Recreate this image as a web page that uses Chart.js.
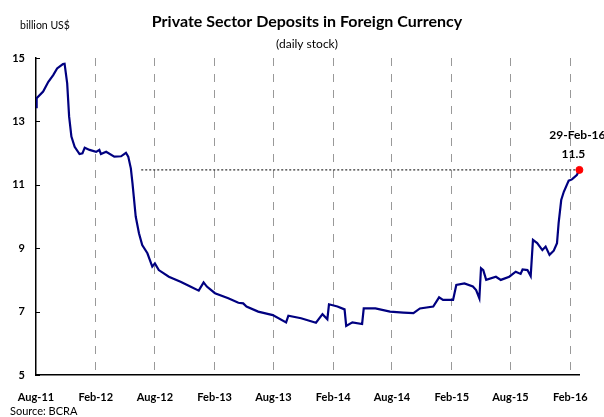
<!DOCTYPE html>
<html>
<head>
<meta charset="utf-8">
<script src="https://cdn.jsdelivr.net/npm/chart.js@4/dist/chart.umd.min.js"></script>
<style>
  html, body { margin: 0; padding: 0; background: #fff; }
  canvas { display: block; }
</style>
</head>
<body>
<canvas id="myChart" width="604" height="417"></canvas>
<script>
// values, billion US$
var dates = ["2011-08-01","2011-08-03","2011-08-23","2011-09-08","2011-09-23","2011-10-05","2011-10-23","2011-10-28",
  "2011-11-05","2011-11-11","2011-11-18","2011-11-28","2011-12-13","2011-12-22","2011-12-29","2012-01-13",
  "2012-02-02","2012-02-12","2012-02-17","2012-03-04","2012-03-29","2012-04-19","2012-05-04","2012-05-11",
  "2012-05-19","2012-05-24","2012-06-03","2012-06-13","2012-06-23","2012-07-09","2012-07-24","2012-08-01",
  "2012-08-13","2012-09-13","2012-10-19","2012-11-18","2012-12-14","2012-12-29","2013-01-08","2013-02-02",
  "2013-03-15","2013-04-15","2013-04-30","2013-05-10","2013-06-15","2013-07-30","2013-09-09","2013-09-16",
  "2013-10-25","2013-12-10","2013-12-30","2014-01-14","2014-01-19","2014-02-14","2014-03-08","2014-03-13",
  "2014-04-01","2014-05-01","2014-05-06","2014-06-11","2014-07-26","2014-09-05","2014-10-06","2014-10-26",
  "2014-12-06","2014-12-24","2015-01-05","2015-02-05","2015-02-15","2015-03-12","2015-04-07","2015-04-17",
  "2015-04-27","2015-05-02","2015-05-09","2015-05-18","2015-06-17","2015-07-02","2015-07-28","2015-08-17",
  "2015-09-01","2015-09-07","2015-09-22","2015-10-02","2015-10-09","2015-10-22","2015-11-07","2015-11-17",
  "2015-11-29","2015-12-12","2015-12-22","2015-12-27","2016-01-04","2016-01-12","2016-01-27","2016-02-06",
  "2016-02-21","2016-02-29"];
var deposits = [13.45,13.73,13.94,14.25,14.46,14.67,14.81,14.82,
  14.2,13.15,12.52,12.2,11.97,11.99,12.17,12.1,
  12.04,12.1,11.97,12.04,11.89,11.9,12.01,11.89,
  11.52,11.05,10.0,9.47,9.1,8.84,8.42,8.52,
  8.31,8.1,7.94,7.79,7.66,7.92,7.79,7.58,
  7.42,7.28,7.26,7.16,7.0,6.89,6.66,6.87,
  6.79,6.65,6.92,6.76,7.23,7.16,7.07,6.55,
  6.66,6.61,7.1,7.1,7.0,6.97,6.95,7.1,
  7.16,7.45,7.37,7.37,7.84,7.89,7.79,7.68,
  7.42,8.37,8.31,8.0,8.1,8.0,8.1,8.26,
  8.19,8.33,8.31,8.12,9.26,9.16,8.94,9.05,
  8.79,8.92,9.16,9.79,10.52,10.78,11.13,11.17,
  11.31,11.47];

var tickDates = ["2011-08-01","2012-02-01","2012-08-01","2013-02-01","2013-08-01","2014-02-01",
  "2014-08-01","2015-02-01","2015-08-01","2016-02-01"];
var tickLabels = ["Aug-11","Feb-12","Aug-12","Feb-13","Aug-13","Feb-14","Aug-14","Feb-15","Aug-15","Feb-16"];
var yTicks = [5, 7, 9, 11, 13, 15];

var startDate = "2011-08-01";
var endDate = "2016-03-01";
var refLineStart = "2012-06-20";
var lastLabel = "29-Feb-16";
var lastValueLabel = "11.5";

function dayOf(s) {
  var p = s.split("-");
  var base = Date.UTC(2011, 7, 1);
  return Math.round((Date.UTC(+p[0], +p[1] - 1, +p[2]) - base) / 86400000);
}

var seriesData = dates.map(function (d, i) { return { x: dayOf(d), y: deposits[i] }; });
var lastPoint = seriesData[seriesData.length - 1];
var refLine = [{ x: dayOf(refLineStart), y: lastPoint.y }, { x: lastPoint.x, y: lastPoint.y }];

var boldFont = "Lato, 'DejaVu Sans', sans-serif";

var textPlugin = {
  id: 'texts',
  afterDraw: function (chart) {
    var ctx = chart.ctx;
    ctx.save();
    ctx.fillStyle = '#000';
    ctx.textAlign = 'center';
    ctx.textBaseline = 'middle';
    ctx.font = "bold 16px " + boldFont;
    ctx.fillText("Private Sector Deposits in Foreign Currency", 307, 22);
    ctx.font = "12px " + boldFont;
    ctx.fillText("(daily stock)", 307, 44);
    ctx.textAlign = 'left';
    ctx.font = "10.5px " + boldFont;
    ctx.fillText("billion US$", 20, 26);
    ctx.font = "11px " + boldFont;
    ctx.fillText("Source: BCRA", 10, 411);

    // end-point annotation
    var xs = chart.scales.x, ys = chart.scales.y;
    var px = xs.getPixelForValue(lastPoint.x);
    ctx.textAlign = 'center';
    ctx.font = "bold 12px " + boldFont;
    ctx.fillText(lastLabel, px - 2, 135);
    ctx.fillText(lastValueLabel, px - 6, 154);

    // inward tick marks on y axis
    ctx.strokeStyle = '#000';
    ctx.lineWidth = 1;
    yTicks.forEach(function (v) {
      var py = Math.round(ys.getPixelForValue(v)) + 0.5;
      ctx.beginPath();
      ctx.moveTo(xs.left, py);
      ctx.lineTo(xs.left + 4, py);
      ctx.stroke();
    });
    ctx.restore();
  }
};

var ctx = document.getElementById("myChart");
var chart = new Chart(ctx, {
  type: 'line',
  data: {
    datasets: [
      {
        label: 'reference',
        data: refLine,
        borderColor: '#000',
        borderWidth: 1,
        borderDash: [2, 2],
        pointRadius: 0,
        order: 2
      },
      {
        label: 'deposits',
        data: seriesData,
        borderColor: '#000080',
        borderWidth: 2.2,
        pointRadius: 0,
        tension: 0,
        order: 1
      },
      {
        label: 'last',
        data: [lastPoint],
        showLine: false,
        clip: false,
        pointRadius: 3.5,
        pointBackgroundColor: '#ff0000',
        pointBorderColor: '#ff0000',
        order: 0
      }
    ]
  },
  options: {
    responsive: false,
    animation: false,
    layout: { padding: { top: 58, right: 19, left: 0, bottom: 0 } },
    plugins: { legend: { display: false }, tooltip: { enabled: false } },
    scales: {
      x: {
        type: 'linear',
        min: dayOf(startDate),
        max: dayOf(endDate),
        afterBuildTicks: function (scale) {
          scale.ticks = tickDates.map(function (d) { return { value: dayOf(d) }; });
        },
        afterFit: function (scale) { scale.height = 42; },
        ticks: {
          autoSkip: false,
          maxRotation: 0,
          padding: 16,
          color: '#000',
          font: { family: boldFont, size: 11, weight: 'bold' },
          callback: function (value, index) { return tickLabels[index]; }
        },
        grid: {
          drawTicks: false,
          lineWidth: 1,
          color: function (c) { return c.index === 0 ? 'rgba(0,0,0,0)' : '#999'; }
        },
        border: { display: true, color: '#000', width: 1.5, dash: [8, 8] }
      },
      y: {
        min: 5,
        max: 15,
        afterBuildTicks: function (scale) {
          scale.ticks = yTicks.map(function (v) { return { value: v }; });
        },
        afterFit: function (scale) { scale.width = 36; },
        ticks: {
          padding: 11,
          color: '#000',
          font: { family: boldFont, size: 11, weight: 'bold' }
        },
        grid: { display: false, drawTicks: false },
        border: { display: true, color: '#000', width: 1.5 }
      }
    }
  },
  plugins: [textPlugin]
});
</script>
</body>
</html>
